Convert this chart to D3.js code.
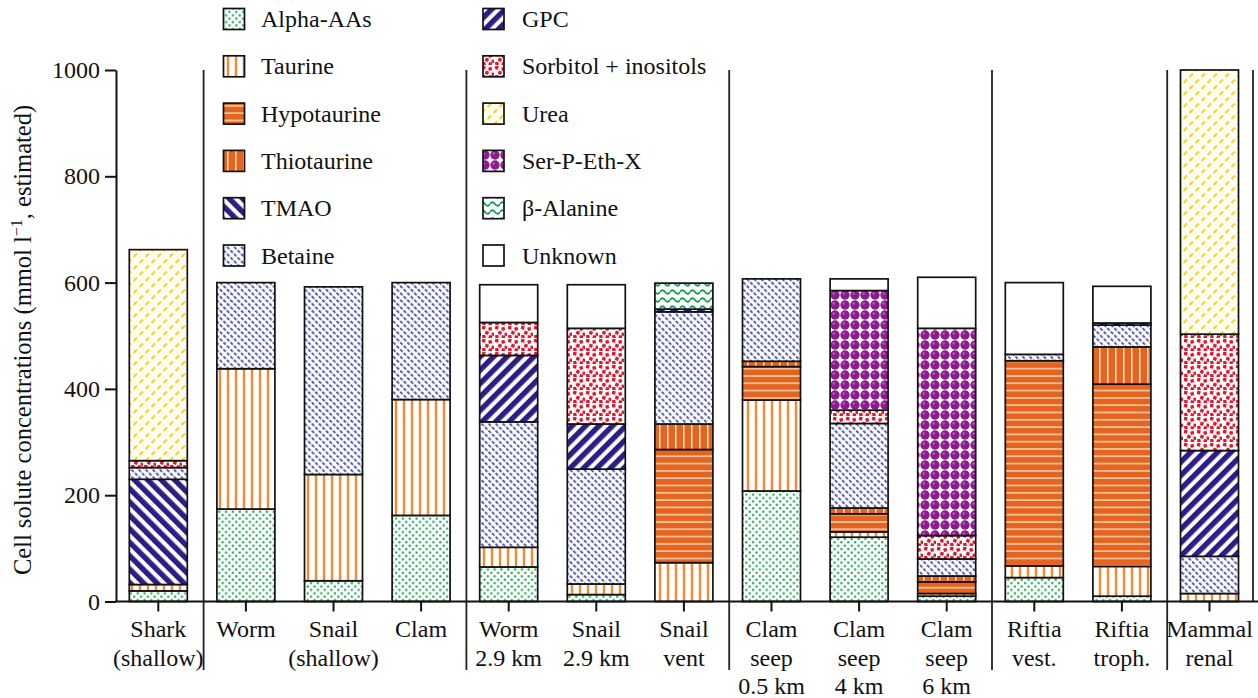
<!DOCTYPE html>
<html>
<head>
<meta charset="utf-8">
<script src="https://cdn.jsdelivr.net/npm/d3@7"></script>
<style>
  html, body { margin: 0; padding: 0; background: #fff; }
  svg { display: block; font-family: "Liberation Serif", "Times New Roman", serif; }
</style>
</head>
<body>
<svg id="chart" width="1258" height="698"></svg>
<script>
// Organisms / tissues (line breaks mark the multi-line axis labels)
const categories = [
  "Shark\n(shallow)", "Worm", "Snail\n(shallow)", "Clam",
  "Worm\n2.9 km", "Snail\n2.9 km", "Snail\nvent",
  "Clam\nseep\n0.5 km", "Clam\nseep\n4 km", "Clam\nseep\n6 km",
  "Riftia\nvest.", "Riftia\ntroph.", "Mammal\nrenal"
];

// Solute classes, in stacking order (bottom to top)
const solutes = [
  "Alpha-AAs", "Taurine", "Hypotaurine", "Thiotaurine", "TMAO", "Betaine",
  "GPC", "Sorbitol + inositols", "Urea", "Ser-P-Eth-X", "β-Alanine", "Unknown"
];

// Estimated concentrations (mmol l-1) per solute, one value per category
const alphaAAs    = [20, 174, 39, 162, 65, 13, 0, 208, 121, 10, 45, 10, 0];
const taurine     = [12, 264, 200, 218, 37, 20, 73, 171, 10, 5, 22, 56, 15];
const hypotaurine = [0, 0, 0, 0, 0, 0, 213, 63, 34, 22, 386, 343, 0];
const thiotaurine = [0, 0, 0, 0, 0, 0, 48, 10, 11, 11, 0, 70, 0];
const tmao        = [198, 0, 0, 0, 0, 0, 0, 0, 0, 0, 0, 0, 0];
const betaine     = [22, 162, 353, 220, 236, 216, 211, 155, 159, 32, 12, 41, 70];
const gpc         = [0, 0, 0, 0, 125, 85, 5, 0, 0, 0, 0, 4, 199];
const sorbitol    = [13, 0, 0, 0, 62, 180, 0, 0, 25, 44, 0, 0, 219];
const urea        = [397, 0, 0, 0, 0, 0, 0, 0, 0, 0, 0, 0, 497];
const serPEthX    = [0, 0, 0, 0, 0, 0, 0, 0, 225, 390, 0, 0, 0];
const betaAlanine = [0, 0, 0, 0, 0, 0, 49, 0, 0, 0, 0, 0, 0];
const unknown     = [0, 0, 0, 0, 71, 82, 0, 0, 22, 96, 135, 69, 0];

const seriesValues = [alphaAAs, taurine, hypotaurine, thiotaurine, tmao, betaine,
  gpc, sorbitol, urea, serPEthX, betaAlanine, unknown];

const yTicks = [0, 200, 400, 600, 800, 1000];
// Group separators sit after these category indices
const groupBreaks = [0, 3, 6, 9, 11];

// ---------------------------------------------------------------------------
const svg = d3.select("#chart");
const axisX0 = 116, plotTop = 70, plotBottom = 601.5;
const fontSize = 24;

const x = d3.scaleBand()
  .domain(categories)
  .range([114.5, 1253.3])
  .paddingInner(0.338)
  .paddingOuter(0.169);

const y = d3.scaleLinear().domain([0, 1000]).range([plotBottom, plotTop]);

// ---------------- fill patterns ----------------
const defs = svg.append("defs");
function pattern(id, w, h, transform) {
  const p = defs.append("pattern")
    .attr("id", id)
    .attr("patternUnits", "userSpaceOnUse")
    .attr("width", w).attr("height", h);
  if (transform) p.attr("patternTransform", transform);
  return p;
}
let p;
// Alpha-AAs: green dots
p = pattern("pat0", 6.8, 6.8);
p.append("rect").attr("width", 6.8).attr("height", 6.8).attr("fill", "#fff");
[[1.7, 1.7], [5.1, 5.1]].forEach(([cx, cy]) =>
  p.append("rect").attr("x", cx - 1.05).attr("y", cy - 1.05).attr("width", 2.1).attr("height", 2.1).attr("fill", "#15a04e"));
// Taurine: orange vertical lines on white
p = pattern("pat1", 8, 8);
p.append("rect").attr("width", 8).attr("height", 8).attr("fill", "#fff");
p.append("rect").attr("x", 2.8).attr("width", 2.4).attr("height", 8).attr("fill", "#f28a33");
// Hypotaurine: orange with pale horizontal lines
p = pattern("pat2", 8, 7.3);
p.append("rect").attr("width", 8).attr("height", 7.3).attr("fill", "#e5641f");
p.append("rect").attr("y", 3).attr("width", 8).attr("height", 1.4).attr("fill", "#fbdcbd");
// Thiotaurine: orange with pale vertical lines
p = pattern("pat3", 8, 8);
p.append("rect").attr("width", 8).attr("height", 8).attr("fill", "#e5641f");
p.append("rect").attr("x", 3).attr("width", 1.5).attr("height", 8).attr("fill", "#fde6d0");
// TMAO: wide navy "\" stripes
p = pattern("pat4", 9.5, 10, "rotate(-45)");
p.append("rect").attr("width", 9.5).attr("height", 10).attr("fill", "#fff");
p.append("rect").attr("width", 5.4).attr("height", 10).attr("fill", "#2d1d87");
// Betaine: fine dashed blue "\" lines
p = pattern("pat5", 5, 5, "rotate(-45)");
p.append("rect").attr("width", 5).attr("height", 5).attr("fill", "#fff");
p.append("rect").attr("width", 1.8).attr("height", 3.4).attr("fill", "#4a4fae");
// GPC: wide navy "/" stripes
p = pattern("pat6", 9.5, 10, "rotate(45)");
p.append("rect").attr("width", 9.5).attr("height", 10).attr("fill", "#fff");
p.append("rect").attr("width", 5.4).attr("height", 10).attr("fill", "#2d1d87");
// Sorbitol + inositols: scattered red squares
p = pattern("pat7", 13, 13);
p.append("rect").attr("width", 13).attr("height", 13).attr("fill", "#fff");
[[1, 1, 10], [7.5, 2.2, -15], [4.2, 6, 20], [10.5, 7.6, 5], [1.2, 10, -10], [7.6, 10.4, 15]].forEach(([sx, sy, r]) =>
  p.append("rect").attr("x", sx).attr("y", sy).attr("width", 3.4).attr("height", 3.4)
    .attr("fill", "#e3162c").attr("transform", `rotate(${r},${sx + 1.7},${sy + 1.7})`));
// Urea: short yellow dashes on pale yellow
p = pattern("pat8", 12, 12);
p.append("rect").attr("width", 12).attr("height", 12).attr("fill", "#fffdf0");
[[1.5, 5, 5, 1.5], [7.5, 11, 11, 7.5]].forEach(([x1, y1, x2, y2]) =>
  p.append("line").attr("x1", x1).attr("y1", y1).attr("x2", x2).attr("y2", y2)
    .attr("stroke", "#f2d31c").attr("stroke-width", 1.8));
// Ser-P-Eth-X: purple beads
p = pattern("pat9", 10, 10);
p.append("rect").attr("width", 10).attr("height", 10).attr("fill", "#fff");
p.append("circle").attr("cx", 5).attr("cy", 5).attr("r", 4.7).attr("fill", "#8b1b8e");
p.append("circle").attr("cx", 3.7).attr("cy", 3.5).attr("r", 1.3).attr("fill", "#b45ab6");
// β-Alanine: green waves
p = pattern("pat10", 10, 8);
p.append("rect").attr("width", 10).attr("height", 8).attr("fill", "#fff");
p.append("path").attr("d", "M0,4 Q2.5,0.5 5,4 T10,4").attr("fill", "none")
  .attr("stroke", "#1d9d55").attr("stroke-width", 1.9);
// Unknown: plain white
p = pattern("pat11", 4, 4);
p.append("rect").attr("width", 4).attr("height", 4).attr("fill", "#fff");

// ---------------- stacked bars ----------------
const rows = categories.map((c, i) => {
  const r = { category: c };
  solutes.forEach((s, k) => { r[s] = seriesValues[k][i]; });
  return r;
});
const stacked = d3.stack().keys(solutes)(rows);

const layers = svg.append("g").attr("class", "bars");
stacked.forEach((layer, k) => {
  layers.append("g")
    .selectAll("rect")
    .data(layer.filter(d => d[1] - d[0] > 0))
    .join("rect")
    .attr("x", d => x(d.data.category))
    .attr("width", x.bandwidth())
    .attr("y", d => y(d[1]))
    .attr("height", d => y(d[0]) - y(d[1]))
    .attr("fill", `url(#pat${k})`)
    .attr("stroke", "#111")
    .attr("stroke-width", 1.7);
});

// ---------------- group separators ----------------
const sep = svg.append("g").attr("stroke", "#222").attr("stroke-width", 1.8);
groupBreaks.forEach(i => {
  const a = x(categories[i]) + x.bandwidth();
  const b = x(categories[i + 1]);
  const xm = (a + b) / 2 + 1.5;
  sep.append("line").attr("x1", xm).attr("x2", xm).attr("y1", plotTop).attr("y2", 670);
});
sep.append("line").attr("x1", 1253).attr("x2", 1253).attr("y1", plotTop).attr("y2", plotBottom);

// ---------------- axes ----------------
const yAxis = svg.append("g")
  .attr("transform", `translate(${axisX0},0)`)
  .call(d3.axisLeft(y).tickValues(yTicks).tickFormat(d3.format("d"))
    .tickSize(11).tickSizeOuter(0).tickPadding(5));
yAxis.select(".domain").attr("stroke", "#111").attr("stroke-width", 2);
yAxis.selectAll(".tick line").attr("stroke", "#111").attr("stroke-width", 2);
yAxis.selectAll(".tick text")
  .attr("font-family", "Liberation Serif, serif")
  .attr("font-size", fontSize).attr("fill", "#111");

const xAxis = svg.append("g")
  .attr("transform", `translate(0,${plotBottom})`)
  .call(d3.axisBottom(x).tickSize(10).tickSizeOuter(0).tickFormat(""));
xAxis.select(".domain").remove();
xAxis.selectAll(".tick line").attr("stroke", "#111").attr("stroke-width", 2);
svg.append("line")
  .attr("x1", axisX0 - 1).attr("x2", 1258)
  .attr("y1", plotBottom).attr("y2", plotBottom)
  .attr("stroke", "#111").attr("stroke-width", 2);

// Category labels (multi-line)
const labels = svg.append("g")
  .attr("font-size", fontSize).attr("fill", "#111").attr("text-anchor", "middle");
categories.forEach(c => {
  const cx = x(c) + x.bandwidth() / 2;
  const t = labels.append("text").attr("x", cx).attr("y", 637);
  c.split("\n").forEach((line, j) => {
    t.append("tspan").attr("x", cx).attr("y", 637 + j * 28.5).text(line);
  });
});

// Y-axis title
const title = svg.append("text")
  .attr("transform", "translate(31,340) rotate(-90)")
  .attr("text-anchor", "middle")
  .attr("font-size", 24.5).attr("fill", "#111");
title.append("tspan").text("Cell solute concentrations (mmol l");
title.append("tspan").attr("font-size", 16).attr("dy", -9).text("−1");
title.append("tspan").attr("dy", 9).text(", estimated)");

// ---------------- legend ----------------
const legend = svg.append("g").attr("font-size", fontSize).attr("fill", "#111");
solutes.forEach((s, k) => {
  const col = Math.floor(k / 6), row = k % 6;
  const sx = col === 0 ? 223.5 : 483;
  const tx = col === 0 ? 261 : 522;
  const cy = 19 + row * 47.3;
  legend.append("rect")
    .attr("x", sx).attr("y", cy - 10.5).attr("width", 21).attr("height", 21)
    .attr("fill", `url(#pat${k})`).attr("stroke", "#111").attr("stroke-width", 1.7);
  legend.append("text").attr("x", tx).attr("y", cy + 8).text(s);
});
</script>
</body>
</html>
